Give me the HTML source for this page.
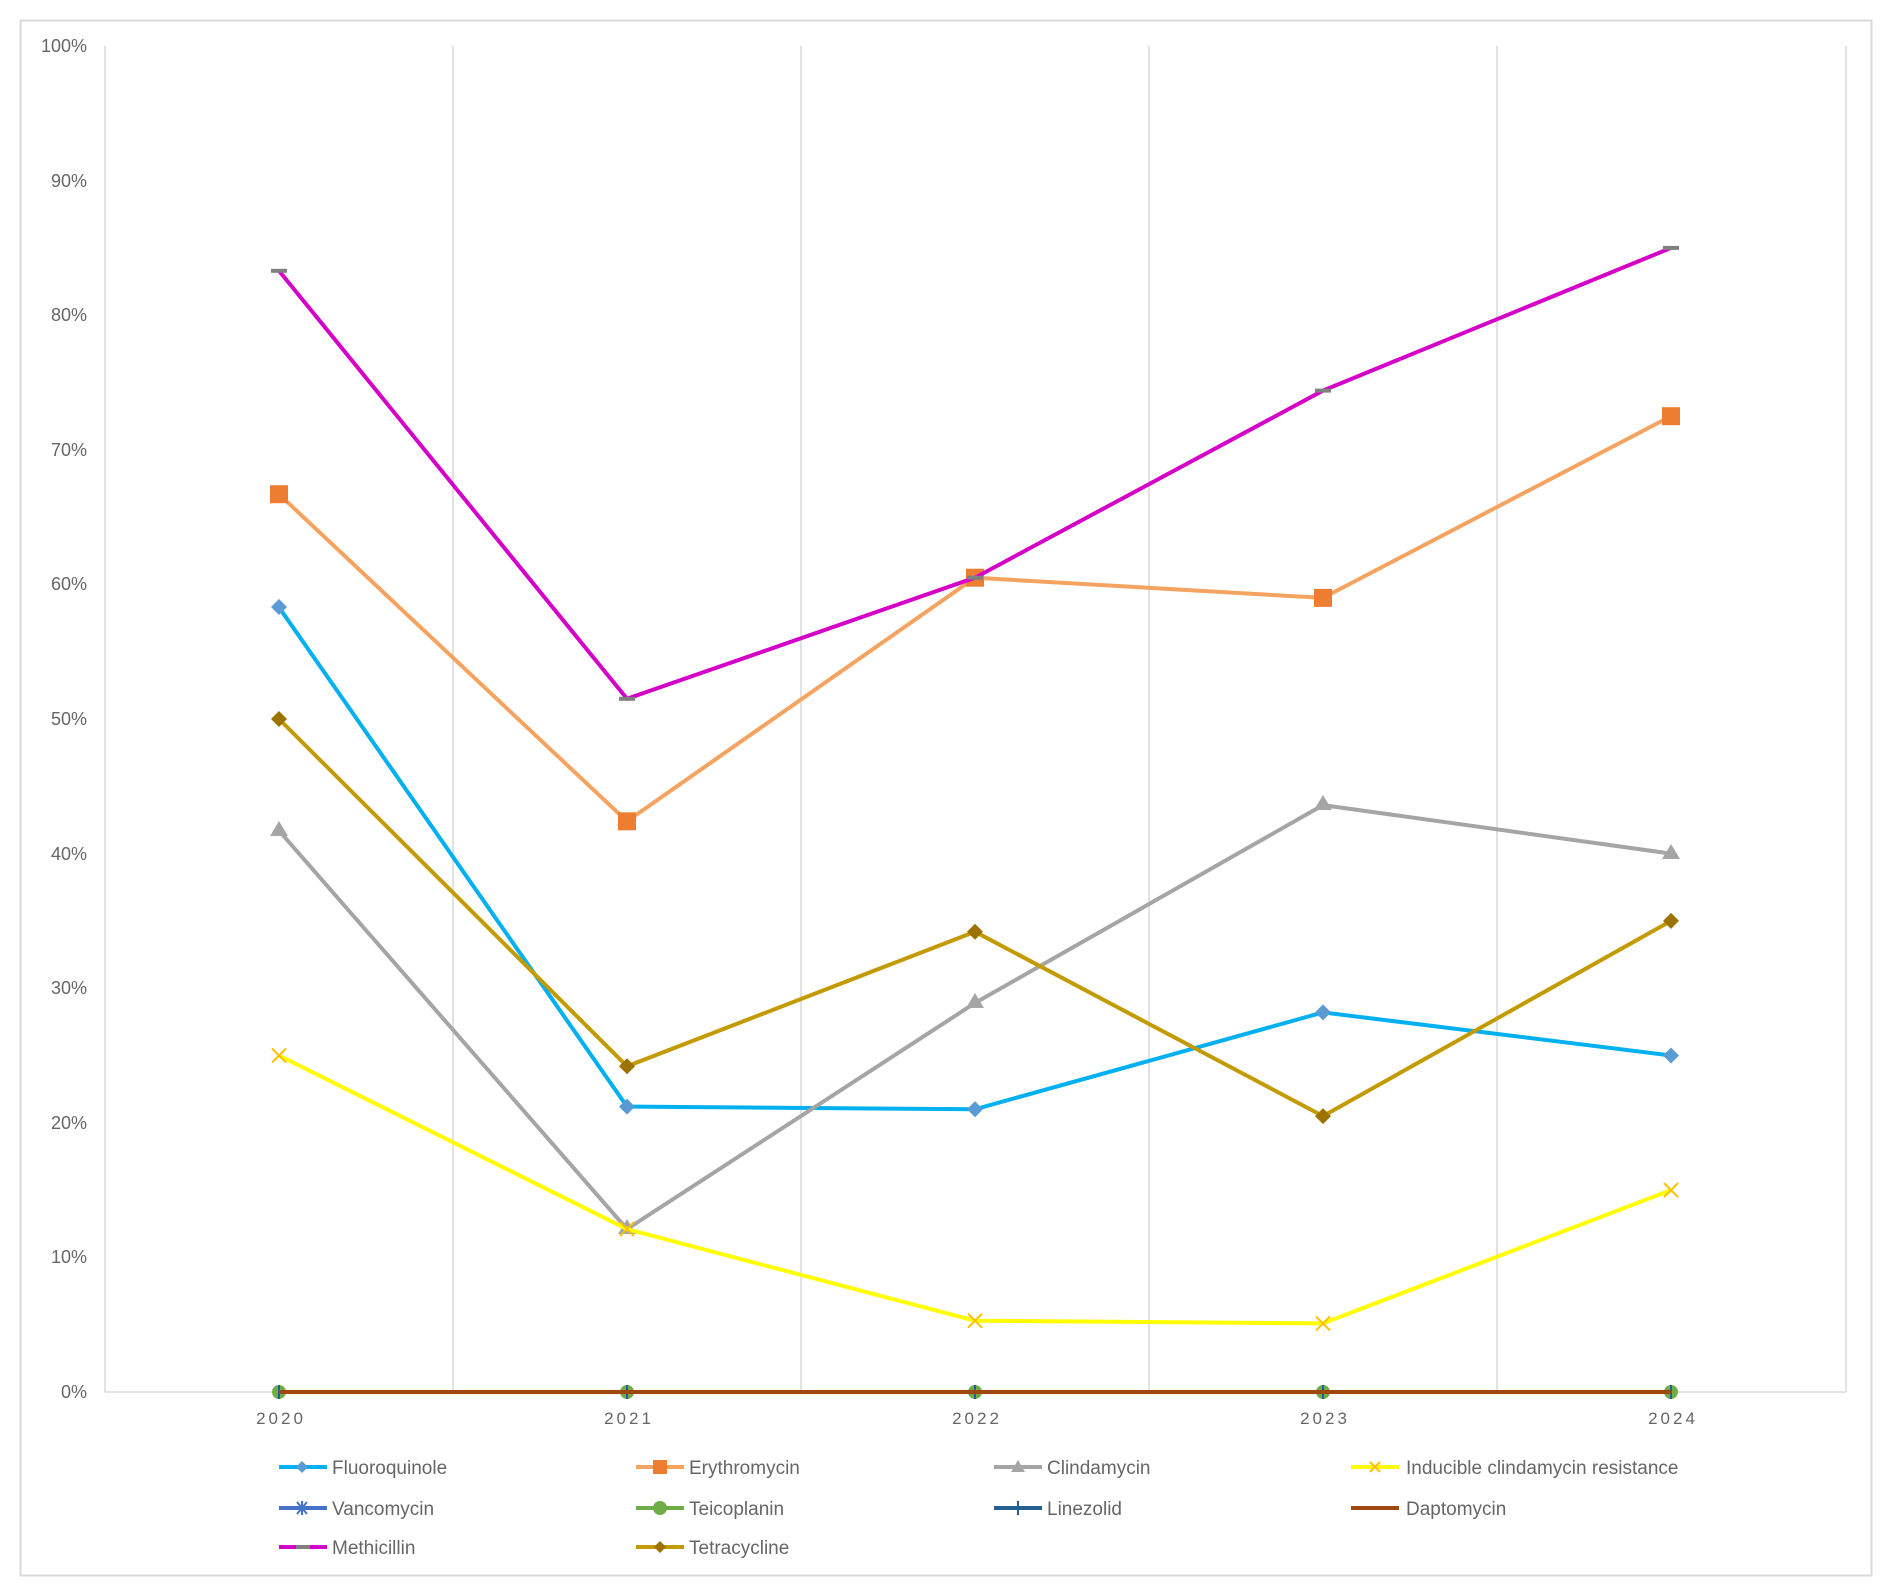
<!DOCTYPE html>
<html><head><meta charset="utf-8"><style>
html,body{margin:0;padding:0;background:#fff}
svg{display:block}
text{font-family:"Liberation Sans",sans-serif;fill:#666}
</style></head><body>
<svg width="1892" height="1596" viewBox="0 0 1892 1596" xmlns="http://www.w3.org/2000/svg">
<rect x="20.5" y="20.5" width="1851" height="1555" fill="#fff" stroke="#d9d9d9" stroke-width="2"/>
<g stroke="#d9d9d9" stroke-width="1.5">
<line x1="105" y1="46" x2="105" y2="1392"/>
<line x1="453" y1="46" x2="453" y2="1392"/>
<line x1="801" y1="46" x2="801" y2="1392"/>
<line x1="1149" y1="46" x2="1149" y2="1392"/>
<line x1="1497" y1="46" x2="1497" y2="1392"/>
<line x1="1846" y1="46" x2="1846" y2="1392"/>
<line x1="105" y1="1392" x2="1846" y2="1392"/>
</g>
<g font-size="18" text-anchor="end">
<text x="87" y="1398">0%</text>
<text x="87" y="1263">10%</text>
<text x="87" y="1129">20%</text>
<text x="87" y="994">30%</text>
<text x="87" y="860">40%</text>
<text x="87" y="725">50%</text>
<text x="87" y="590">60%</text>
<text x="87" y="456">70%</text>
<text x="87" y="321">80%</text>
<text x="87" y="187">90%</text>
<text x="87" y="52">100%</text>
</g>
<g font-size="17" text-anchor="middle" letter-spacing="3">
<text x="281" y="1424">2020</text>
<text x="629" y="1424">2021</text>
<text x="977" y="1424">2022</text>
<text x="1325" y="1424">2023</text>
<text x="1673" y="1424">2024</text>
</g>
<polyline points="279,1392 1671,1392" fill="none" stroke="#4472c4" stroke-width="4"/>
<polyline points="279,1392 1671,1392" fill="none" stroke="#70ad47" stroke-width="4"/>
<g fill="#70ad47"><circle cx="279" cy="1392" r="7"/><circle cx="627" cy="1392" r="7"/><circle cx="975" cy="1392" r="7"/><circle cx="1323" cy="1392" r="7"/><circle cx="1671" cy="1392" r="7"/></g>
<g stroke="#255e91" stroke-width="2"><line x1="279" y1="1385" x2="279" y2="1399"/><line x1="627" y1="1385" x2="627" y2="1399"/><line x1="975" y1="1385" x2="975" y2="1399"/><line x1="1323" y1="1385" x2="1323" y2="1399"/><line x1="1671" y1="1385" x2="1671" y2="1399"/></g>
<polyline points="279,1392 1671,1392" fill="none" stroke="#9e480e" stroke-width="4"/>
<polyline points="279,607.3 627,1106.6 975,1109.3 1323,1012.4 1671,1055.5" fill="none" stroke="#00b0f0" stroke-width="4"/>
<g fill="#5b9bd5"><path d="M279 599l8 8-8 8-8-8z"/><path d="M627 1098.6l8 8-8 8-8-8z"/><path d="M975 1101.3l8 8-8 8-8-8z"/><path d="M1323 1004.4l8 8-8 8-8-8z"/><path d="M1671 1047.5l8 8-8 8-8-8z"/></g>
<polyline points="279,494.2 627,821.3 975,577.7 1323,597.9 1671,416.2" fill="none" stroke="#f4a460" stroke-width="4"/>
<g fill="#ed7d31"><rect x="270" y="485.2" width="18" height="18"/><rect x="618" y="812.3" width="18" height="18"/><rect x="966" y="568.7" width="18" height="18"/><rect x="1314" y="588.9" width="18" height="18"/><rect x="1662" y="407.2" width="18" height="18"/></g>
<polyline points="279,830.7 627,1229.1 975,1003 1323,805.1 1671,853.6" fill="none" stroke="#a5a5a5" stroke-width="4"/>
<g fill="#a5a5a5"><path d="M279 821l9 15h-18z"/><path d="M627 1219l9 15h-18z"/><path d="M975 993l9 15h-18z"/><path d="M1323 795l9 15h-18z"/><path d="M1671 844l9 15h-18z"/></g>
<polyline points="279,1055.5 627,1229.1 975,1320.7 1323,1323.4 1671,1190.1" fill="none" stroke="#ffff00" stroke-width="4"/>
<g stroke="#ffc000" stroke-width="2"><path d="M272 1048.5l14 14M286 1048.5l-14 14"/><path d="M620 1222.1l14 14M634 1222.1l-14 14"/><path d="M968 1313.7l14 14M982 1313.7l-14 14"/><path d="M1316 1316.4l14 14M1330 1316.4l-14 14"/><path d="M1664 1183.1l14 14M1678 1183.1l-14 14"/></g>
<polyline points="279,270.8 627,698.8 975,577.7 1323,390.6 1671,247.9" fill="none" stroke="#d500c8" stroke-width="4"/>
<g stroke="#808080" stroke-width="4"><line x1="271" y1="270.8" x2="287" y2="270.8"/><line x1="619" y1="698.8" x2="635" y2="698.8"/><line x1="967" y1="577.7" x2="983" y2="577.7"/><line x1="1315" y1="390.6" x2="1331" y2="390.6"/><line x1="1663" y1="247.9" x2="1679" y2="247.9"/></g>
<polyline points="279,719 627,1066.3 975,931.7 1323,1116.1 1671,920.9" fill="none" stroke="#c39b00" stroke-width="4"/>
<g fill="#9c7200"><path d="M279 711l8 8-8 8-8-8z"/><path d="M627 1058.3l8 8-8 8-8-8z"/><path d="M975 923.7l8 8-8 8-8-8z"/><path d="M1323 1108.1l8 8-8 8-8-8z"/><path d="M1671 912.9l8 8-8 8-8-8z"/></g>
<g font-size="19">
<line x1="279" y1="1467" x2="327" y2="1467" stroke="#00b0f0" stroke-width="4"/><path d="M302 1461l6 6-6 6-6-6z" fill="#5b9bd5"/><text x="332" y="1474">Fluoroquinole</text>
<line x1="636" y1="1467" x2="684" y2="1467" stroke="#f4a460" stroke-width="4"/><rect x="653" y="1460" width="14" height="14" fill="#ed7d31"/><text x="689" y="1474">Erythromycin</text>
<line x1="994" y1="1467" x2="1042" y2="1467" stroke="#a5a5a5" stroke-width="4"/><path d="M1018 1460l7 12h-14z" fill="#a5a5a5"/><text x="1047" y="1474">Clindamycin</text>
<line x1="1351" y1="1467" x2="1399" y2="1467" stroke="#ffff00" stroke-width="4"/><path d="M1370 1462l10 10M1380 1462l-10 10" stroke="#ffc000" stroke-width="2"/><text x="1406" y="1474">Inducible clindamycin resistance</text>
<line x1="279" y1="1508" x2="327" y2="1508" stroke="#4472c4" stroke-width="4"/><path d="M297 1502l10 12M307 1502l-10 12M302 1501v14" stroke="#4472c4" stroke-width="2"/><text x="332" y="1515">Vancomycin</text>
<line x1="636" y1="1508" x2="684" y2="1508" stroke="#70ad47" stroke-width="4"/><circle cx="660" cy="1508" r="7" fill="#70ad47"/><text x="689" y="1515">Teicoplanin</text>
<line x1="994" y1="1508" x2="1042" y2="1508" stroke="#255e91" stroke-width="4"/><line x1="1018" y1="1501" x2="1018" y2="1515" stroke="#255e91" stroke-width="2"/><text x="1047" y="1515">Linezolid</text>
<line x1="1351" y1="1508" x2="1399" y2="1508" stroke="#9e480e" stroke-width="4"/><text x="1406" y="1515">Daptomycin</text>
<line x1="279" y1="1547" x2="327" y2="1547" stroke="#d500c8" stroke-width="4"/><line x1="296" y1="1547" x2="310" y2="1547" stroke="#808080" stroke-width="4"/><text x="332" y="1554">Methicillin</text>
<line x1="636" y1="1547" x2="684" y2="1547" stroke="#c39b00" stroke-width="4"/><path d="M660 1541l6 6-6 6-6-6z" fill="#9c7200"/><text x="689" y="1554">Tetracycline</text>
</g>
</svg>
</body></html>
